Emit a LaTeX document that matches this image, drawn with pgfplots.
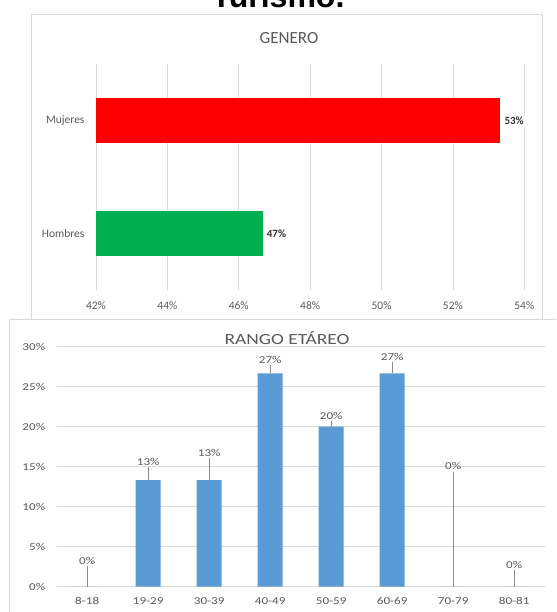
\documentclass[border=0pt]{standalone}
\usepackage{pgfplots}
\usepackage{pgfplotstable}
\pgfplotsset{compat=1.18}
\usepackage{fontspec}
\setmainfont{Carlito}
\newfontfamily\wide[FakeStretch=1.25]{Carlito}
\newfontfamily\arialb{Liberation Sans}
\definecolor{gridc}{HTML}{D9D9D9}
\definecolor{txt}{HTML}{595959}
\definecolor{barred}{HTML}{FF0000}
\definecolor{bargreen}{HTML}{00B050}
\definecolor{barblue}{HTML}{5B9BD5}
\pgfplotsset{/pgf/number format/assume math mode=true}

\pgfplotstableread{
x val lt dy lab
0 0 2.58 2.58 0
1 13.33 14.96 1.63 13
2 13.33 16.09 2.76 13
3 26.67 27.71 1.04 27
4 20 20.71 0.71 20
5 26.67 28.09 1.42 27
6 0 14.375 14.375 0
7 0 2.09 2.09 0
}\agedata

\begin{document}
\begin{tikzpicture}
\useasboundingbox (0pt,0pt) rectangle (556pt,612pt);
\clip (0pt,0pt) rectangle (556pt,612pt);
\node[anchor=base, font=\arialb\bfseries\fontsize{32}{36}\selectfont] at (278pt,604pt) {Turismo.};
% top frame
\draw[gridc, line width=1pt] (31pt,597pt) rectangle (542pt,292pt);
\node[txt, font=\fontsize{17}{20}\selectfont] at (289pt,574pt) {GENERO};
\begin{axis}[at={(96pt,321.75pt)}, anchor=south west, scale only axis,
  width=428.3pt, height=226pt,
  xmin=42, xmax=54, ymin=-0.5, ymax=1.5,
  xtick={42,44,...,54}, ytick={0,1}, yticklabels={Hombres,Mujeres},
  xmajorgrids, grid style={gridc, line width=0.8pt},
  axis line style={draw=none}, major tick length=0pt,
  tick label style={txt, font=\fontsize{11.5}{13}\selectfont},
  xticklabel={\pgfmathprintnumber{\tick}\%},
  xticklabel style={yshift=-8pt}, yticklabel style={xshift=-8pt},
  xbar, bar width=45pt, point meta=x,
  nodes near coords={\pgfmathprintnumber[fixed,precision=0]{\pgfplotspointmeta}\%},
  every node near coord/.append style={font=\bfseries\fontsize{11}{13}\selectfont, color=black!80, anchor=west, xshift=2pt, fill=white, inner sep=2pt},
]
\addplot[fill=barred, draw=none, bar shift=0pt] coordinates {(53.33,1)};
\addplot[fill=bargreen, draw=none, bar shift=0pt] coordinates {(46.67,0)};
\end{axis}
% bottom frame
\fill[white] (9pt,292pt) rectangle (560pt,-5pt);
\draw[gridc, line width=1pt] (9pt,-5pt) -- (9pt,292pt) -- (560pt,292pt);
\node[txt, font=\wide\fontsize{15.5}{18}\selectfont] at (287pt,274pt) {RANGO ETÁREO};
\begin{axis}[at={(56.7pt,25.3pt)}, anchor=south west, scale only axis,
  width=488pt, height=240pt,
  xmin=-0.5, xmax=7.5, ymin=0, ymax=30,
  xtick={0,...,7}, xticklabels={8-18,19-29,30-39,40-49,50-59,60-69,70-79,80-81},
  ytick={0,5,...,30}, yticklabel={\pgfmathprintnumber{\tick}\%},
  ymajorgrids, grid style={gridc, line width=0.8pt},
  axis line style={draw=none}, major tick length=0pt,
  tick label style={txt, font=\wide\fontsize{10.5}{12}\selectfont},
  xticklabel style={yshift=-7pt}, yticklabel style={xshift=-8pt},
]
\addplot[ybar, bar width=25pt, fill=barblue, draw=none] table[x=x, y=val] {\agedata};
\addplot[quiver={u=0, v=\thisrow{dy}}, color=gray!90, line width=0.8pt, -] table[x=x, y=val] {\agedata};
\addplot[draw=none, mark=none, point meta=explicit,
  nodes near coords={\pgfmathprintnumber{\pgfplotspointmeta}\%},
  every node near coord/.append style={anchor=south, inner sep=1.5pt, txt, font=\wide\fontsize{10.5}{12}\selectfont}]
  table[x=x, y=lt, meta=lab] {\agedata};
\end{axis}
\end{tikzpicture}
\end{document}
